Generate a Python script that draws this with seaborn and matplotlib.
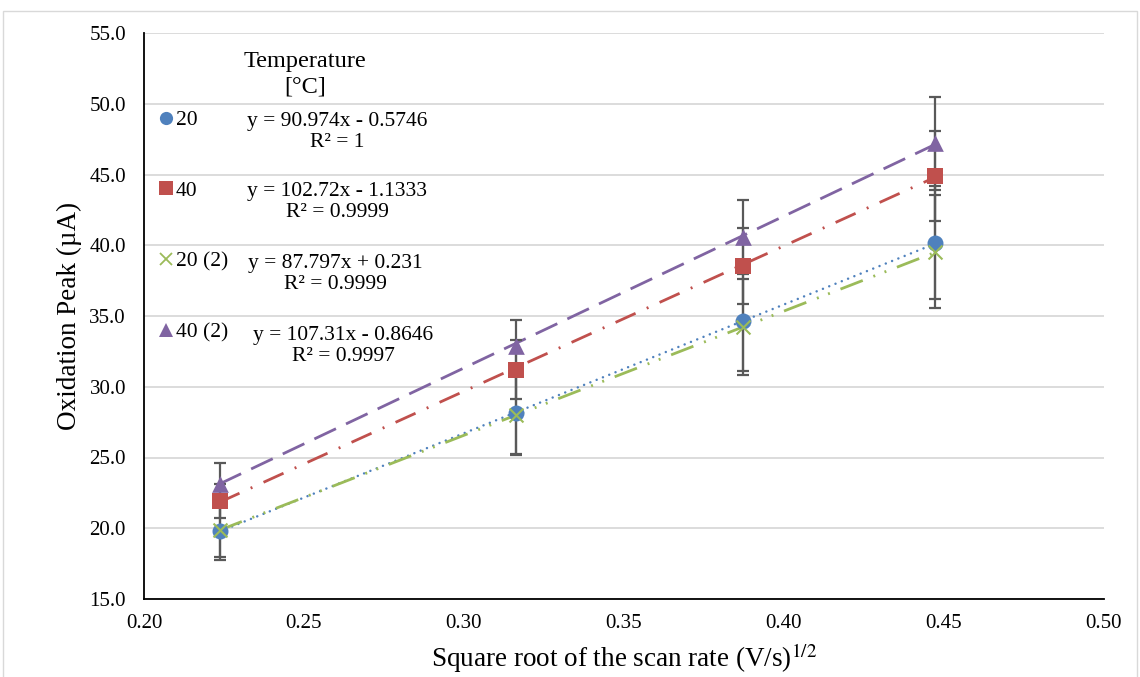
import numpy as np
import matplotlib
matplotlib.use("Agg")
import matplotlib.pyplot as plt
import seaborn as sns
from matplotlib.lines import Line2D
from matplotlib.patches import Rectangle

# ---------------- data ----------------
scan_rate_sqrt = [0.2236, 0.3162, 0.3873, 0.4472]
series_labels = ["20", "40", "20 (2)", "40 (2)"]
peak_20 = [19.80, 28.15, 34.67, 40.18]
peak_40 = [21.90, 31.20, 38.55, 44.90]
peak_20b = [19.85, 28.00, 34.24, 39.54]
peak_40b = [23.15, 32.90, 40.60, 47.20]
err_20 = [1.85, 2.90, 3.57, 4.00]
err_40 = [1.20, 2.10, 2.70, 3.20]
err_20b = [2.10, 2.80, 3.40, 4.00]
err_40b = [1.45, 1.85, 2.60, 3.30]
slopes = [90.974, 102.72, 87.797, 107.31]
intercepts = [-0.5746, -1.1333, 0.231, -0.8646]
equations = [
    "y = 90.974x - 0.5746\nR² = 1",
    "y = 102.72x - 1.1333\nR² = 0.9999",
    "y = 87.797x + 0.231\nR² = 0.9999",
    "y = 107.31x - 0.8646\nR² = 0.9997",
]
x_ticks = [0.20, 0.25, 0.30, 0.35, 0.40, 0.45, 0.50]
y_ticks = [15.0, 20.0, 25.0, 30.0, 35.0, 40.0, 45.0, 50.0, 55.0]
legend_title = "Temperature\n[°C]"
x_label = r"Square root of the scan rate (V/s)$^{1/2}$"
y_label = "Oxidation Peak (µA)"

peaks = [peak_20, peak_40, peak_20b, peak_40b]
errs = [err_20, err_40, err_20b, err_40b]

# ---------------- style ----------------
sns.set_theme(style="white")
plt.rcParams["font.family"] = ["Liberation Serif", "DejaVu Serif"]
plt.rcParams["mathtext.fontset"] = "stix"

colors = ["#4F81BD", "#C0504D", "#9BBB59", "#8064A2"]
markers = ["o", "s", "x", "^"]
msizes = [11.5, 11.0, 10.0, 12.0]
dashes = [(0.01, 2.7), (7.9, 4.4, 0.7, 4.4), (8.6, 4.1, 0.7, 3.6, 0.7, 4.1), (8.6, 4.0)]
caps = ["round", "butt", "butt", "butt"]
lws = [1.8, 2.0, 2.0, 2.0]

fig = plt.figure(figsize=(11.4, 6.77), dpi=100)
ax = fig.add_axes([144 / 1140, 1 - 599 / 677, (1104 - 144) / 1140, (599 - 33) / 677])

xs = np.array(scan_rate_sqrt)
for i in range(4):
    # trendline
    xl = np.linspace(xs.min(), xs.max(), 50)
    line, = ax.plot(xl, slopes[i] * xl + intercepts[i], color=colors[i], lw=lws[i],
                    zorder=2, solid_capstyle=caps[i])
    line.set_dashes(dashes[i])
    line.set_dash_capstyle(caps[i])
    # error bars
    ax.errorbar(scan_rate_sqrt, peaks[i], yerr=errs[i], fmt="none", ecolor="#595959",
                elinewidth=1.6, capsize=4.5, capthick=1.6, zorder=3)

for i in range(4):
    if markers[i] == "x":
        sns.scatterplot(x=scan_rate_sqrt, y=peaks[i], marker="x", color=colors[i],
                        s=msizes[i] ** 2, linewidth=1.5, ax=ax, zorder=4)
    else:
        sns.scatterplot(x=scan_rate_sqrt, y=peaks[i], marker=markers[i], color=colors[i],
                        s=msizes[i] ** 2, linewidth=0, edgecolor=colors[i], ax=ax, zorder=4)

ax.set_xlim(0.20, 0.50)
ax.set_ylim(15, 55)
ax.set_xticks(x_ticks)
ax.set_xticklabels([f"{t:.2f}" for t in x_ticks])
ax.set_yticks(y_ticks)
ax.set_yticklabels([f"{t:.1f}" for t in y_ticks])
ax.tick_params(axis="x", direction="in", length=5, width=1.3, color="black",
               labelsize=15, pad=11, colors="black")
ax.tick_params(axis="y", length=0, labelsize=15, pad=13, colors="black")
ax.yaxis.grid(True, color="#D9D9D9", lw=1.3)
ax.xaxis.grid(False)
ax.set_axisbelow(True)
for s in ["top", "right"]:
    ax.spines[s].set_visible(False)
for s in ["left", "bottom"]:
    ax.spines[s].set_color("black")
    ax.spines[s].set_linewidth(1.3)

ax.set_xlabel(x_label, fontsize=19.5, color="black", labelpad=6)
ax.set_ylabel(y_label, fontsize=19.5, color="black", labelpad=5)

# legend (markers + labels)
handles = [Line2D([], [], marker=markers[i], color=colors[i], linestyle="none",
                  markersize=9.5 if markers[i] != "x" else 8.5,
                  markeredgewidth=1.3 if markers[i] == "x" else 0)
           for i in range(4)]
leg = ax.legend(handles, series_labels, loc="upper left",
                bbox_to_anchor=(159 / 1140, 1 - 110 / 677), bbox_transform=fig.transFigure,
                frameon=False, fontsize=15.5, handlelength=0.65, handletextpad=0.12,
                labelspacing=2.36, borderpad=0, borderaxespad=0)
for t in leg.get_texts():
    t.set_color("black")

# legend title and trendline equations
fig.text(305 / 1140, 1 - 74 / 677, legend_title, ha="center", va="center", fontsize=17.5,
         linespacing=1.3, color="black")
eq_y = [132, 202, 274, 346]
eq_x = [337, 337, 335, 343]
for i in range(4):
    fig.text(eq_x[i] / 1140, 1 - eq_y[i] / 677, equations[i], ha="center", va="center",
             fontsize=15.5, linespacing=1.15, color="black")

# outer chart border
fig.patches.append(Rectangle((3 / 1140, -0.05), 1134 / 1140, 1.05 - 11 / 677,
                             transform=fig.transFigure, fill=False, edgecolor="#D9D9D9", lw=1))

fig.savefig("out.png", dpi=100)
